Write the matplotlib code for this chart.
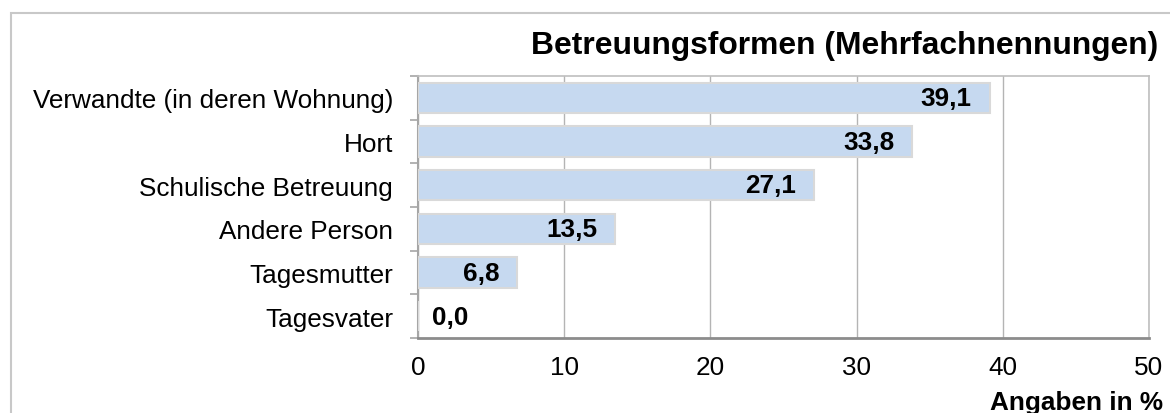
import matplotlib.pyplot as plt
from matplotlib.patches import Rectangle

# Daten (Angaben in %)
kategorien = ['Verwandte (in deren Wohnung)', 'Hort', 'Schulische Betreuung',
              'Andere Person', 'Tagesmutter', 'Tagesvater']
werte = [39.1, 33.8, 27.1, 13.5, 6.8, 0.0]
x_ticks = [0, 10, 20, 30, 40, 50]

plt.rcParams['font.family'] = ['Liberation Sans', 'DejaVu Sans']
fs = 18.8

fig = plt.figure(figsize=(11.7, 4.14), dpi=100)
ax = fig.add_axes([0.3573, 0.181, 0.6247, 0.633])

# Rahmen um das ganze Diagramm (rechts und unten abgeschnitten)
fig.patches.append(Rectangle((0.0094, -0.05), 1.2, 1.016, transform=fig.transFigure,
                             fill=False, edgecolor='#c8c8c8', linewidth=1.5))

pos = list(range(len(kategorien)))
ax.barh(pos, werte, height=0.69, color='#c6d9f0', edgecolor='#d9d9d9',
        linewidth=1.5, zorder=3)

for p, w in zip(pos, werte):
    txt = f"{w:.1f}".replace('.', ',')
    if w > 3:
        ax.annotate(txt, (w, p), xytext=(-18, 0), textcoords='offset pixels',
                    ha='right', va='center', fontsize=fs, fontweight='bold', zorder=4)
    else:
        ax.annotate(txt, (0, p), xytext=(14, -1), textcoords='offset pixels',
                    ha='left', va='center', fontsize=fs, fontweight='bold', zorder=4)

ax.set_xlim(0, 50)
ax.set_ylim(len(kategorien) - 0.5, -0.5)
ax.set_xticks(x_ticks)
ax.set_xticklabels([str(t) for t in x_ticks], fontsize=fs)
ax.tick_params(axis='x', length=0, pad=12)
ax.grid(axis='x', color='#b4b4b4', linewidth=1, zorder=0)

# Kategorien als Minor-Ticks, Striche an den Grenzen als Major-Ticks
ax.set_yticks([p - 0.5 for p in pos] + [len(pos) - 0.5])
ax.set_yticklabels([])
ax.tick_params(axis='y', which='major', length=6, color='#a6a6a6', width=1.2)
ax.set_yticks(pos, minor=True)
ax.set_yticklabels(kategorien, minor=True, fontsize=fs)
ax.tick_params(axis='y', which='minor', length=0, pad=18)

for s in ['top', 'right']:
    ax.spines[s].set_color('#bfbfbf')
    ax.spines[s].set_linewidth(1.2)
ax.spines['left'].set_color('#a6a6a6')
ax.spines['left'].set_linewidth(1.5)
ax.spines['bottom'].set_color('#8c8c8c')
ax.spines['bottom'].set_linewidth(2)

fig.text(0.990, 0.89, 'Betreuungsformen (Mehrfachnennungen)', ha='right', va='center',
         fontsize=22.9, fontweight='bold')
fig.text(0.994, 0.0097, 'Angaben in %', ha='right', va='baseline',
         fontsize=fs, fontweight='bold')

fig.savefig('out.png', dpi=100)
